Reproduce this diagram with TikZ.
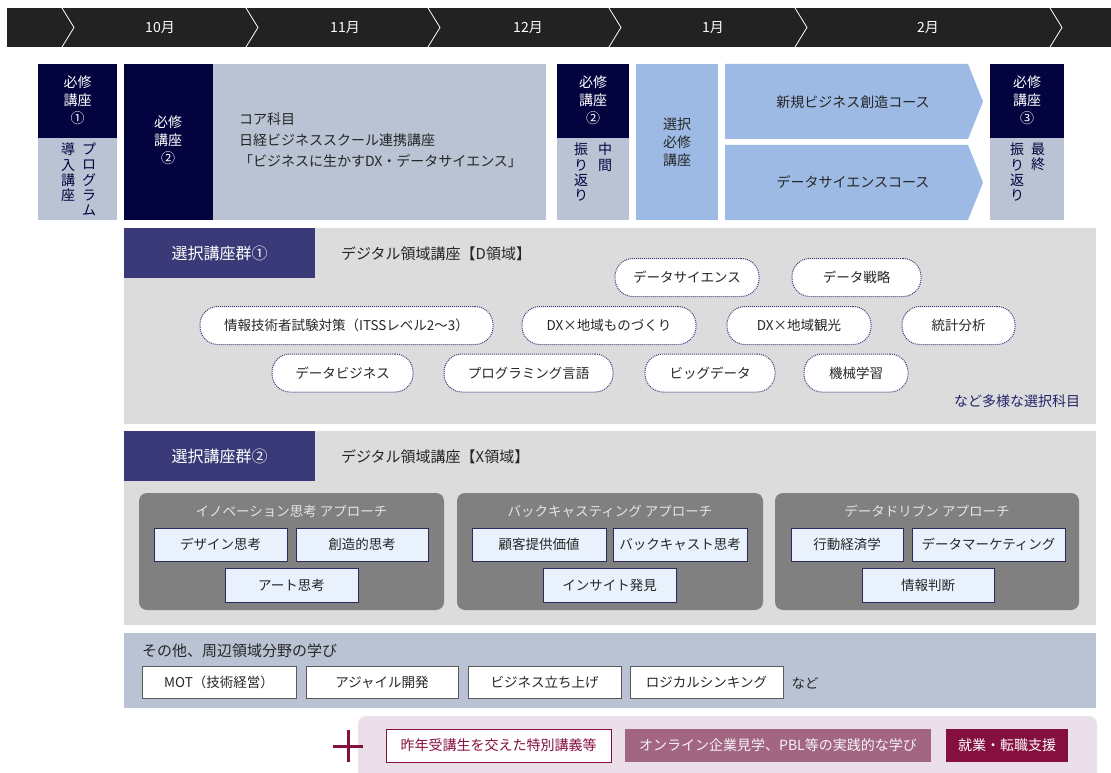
\documentclass[tikz,border=0pt]{standalone}
\usepackage{fontspec}
\setmainfont{Noto Sans CJK JP}
\definecolor{navy}{HTML}{03033F}
\definecolor{greyblue}{HTML}{B9C3D3}
\definecolor{lightblue}{HTML}{9DBAE4}
\definecolor{barblack}{HTML}{222222}
\definecolor{tabcol}{HTML}{3A3A78}
\definecolor{panelgrey}{HTML}{DCDCDC}
\definecolor{groupgrey}{HTML}{808080}
\definecolor{innerfill}{HTML}{E9F1FC}
\definecolor{innerdraw}{HTML}{2A2A5E}
\definecolor{pilldraw}{HTML}{3A3A78}
\definecolor{txt}{HTML}{262626}
\definecolor{maroon}{HTML}{850F3F}
\definecolor{mauve}{HTML}{A26683}
\definecolor{pinkpanel}{HTML}{EBE0EA}
\definecolor{boxgrey}{HTML}{5A5A5A}
\definecolor{navytext}{HTML}{22226A}
\newcommand{\myfs}[2]{\fontsize{#1}{#2}\selectfont}
\begin{document}
\begin{tikzpicture}[x=1pt,y=-1pt,
  every node/.style={inner sep=0pt,outer sep=0pt,text=txt},
  nw/.style={anchor=north west},
  darkbox/.style={nw,fill=navy},
  lightbox/.style={nw,fill=greyblue},
  bluebox/.style={nw,fill=lightblue},
  darklbl/.style={text=white,align=center,font=\myfs{14}{18}},
  vert/.style={anchor=north,align=center,text=navy,font=\myfs{14}{15.3}},
  pill/.style={draw=pilldraw,densely dotted,line width=1pt,fill=white,rounded corners=18pt,minimum height=38pt,font=\myfs{13.5}{16}},
  tabbox/.style={nw,fill=tabcol,minimum width=191pt,minimum height=50pt,text=white,font=\myfs{16}{18}},
  panelbox/.style={nw,fill=panelgrey},
  groupbox/.style={nw,fill=groupgrey,rounded corners=8pt},
  grouptitle/.style={text=white!90!black,font=\myfs{13.5}{16}},
  innerbox/.style={nw,fill=innerfill,draw=innerdraw,line width=1pt,font=\myfs{13.5}{16}},
  otherbox/.style={nw,fill=white,draw=boxgrey,line width=1pt,minimum height=32pt,font=\myfs{13.5}{16}},
  month/.style={text=white,font=\myfs{14}{16}},
  chev/.style={draw=white,line width=0.8pt}
]
\useasboundingbox (0,0) rectangle (1111,773);
\fill[white] (0,0) rectangle (1111,773);

% timeline bar
\node[nw,fill=barblack,minimum width=1104pt,minimum height=39pt] (bar) at (7,8) {};
\foreach \cx in {62,246,428,609,795,1050}{
  \draw[chev] (\cx,8) -- (\cx+12,27.5) -- (\cx,47);
}
\node[month] (m10) at (160,27.5) {10月};
\node[month] (m11) at (345,27.5) {11月};
\node[month] (m12) at (528,27.5) {12月};
\node[month] (m1) at (713,27.5) {1月};
\node[month] (m2) at (928,27.5) {2月};

% Box A
\node[darkbox,minimum width=79pt,minimum height=74pt] (a1) at (38,64) {};
\node[lightbox,minimum width=79pt,minimum height=82pt] (a2) at (38,138) {};
\node[darklbl] (a1t) at (77.5,100) {必修\\講座\\①};
\node[vert] (a2r) at (89,143) {プ\\ロ\\グ\\ラ\\ム};
\node[vert] (a2l) at (68,143) {導\\入\\講\\座};

% Box B
\node[darkbox,minimum width=89pt,minimum height=156pt] (b1) at (124,64) {};
\node[lightbox,minimum width=333pt,minimum height=156pt] (b2) at (213,64) {};
\node[darklbl] (b1t) at (168,140) {必修\\講座\\②};
\node[anchor=west,align=left,font=\myfs{14}{21}] (b2t) at (239,140) {コア科目\\日経ビジネススクール連携講座\\「ビジネスに生かすDX・データサイエンス」};

% Box C
\node[darkbox,minimum width=72pt,minimum height=74pt] (c1) at (557,64) {};
\node[lightbox,minimum width=72pt,minimum height=82pt] (c2) at (557,138) {};
\node[darklbl] (c1t) at (593,100) {必修\\講座\\②};
\node[vert] (c2r) at (605,143) {中\\間};
\node[vert] (c2l) at (581,143) {振\\り\\返\\り};

% Box D
\node[bluebox,minimum width=82pt,minimum height=156pt] (d1) at (636,64) {};
\node[align=center,font=\myfs{14}{18}] (d1t) at (677,142) {選択\\必修\\講座};

% Course arrows
\fill[lightblue] (725,64) -- (968,64) -- (983,101.5) -- (968,139) -- (725,139) -- cycle;
\fill[lightblue] (725,145) -- (968,145) -- (983,182.5) -- (968,220) -- (725,220) -- cycle;
\node[font=\myfs{14}{16}] (course1) at (853,102) {新規ビジネス創造コース};
\node[font=\myfs{14}{16}] (course2) at (853,182) {データサイエンスコース};

% Box E
\node[darkbox,minimum width=74pt,minimum height=74pt] (e1) at (990,64) {};
\node[lightbox,minimum width=74pt,minimum height=82pt] (e2) at (990,138) {};
\node[darklbl] (e1t) at (1027,100) {必修\\講座\\③};
\node[vert] (e2r) at (1038,143) {最\\終};
\node[vert] (e2l) at (1017,143) {振\\り\\返\\り};

% D domain panel
\node[panelbox,minimum width=972pt,minimum height=196pt] (dpanel) at (124,228) {};
\node[tabbox] (dtab) at (124,228) {選択講座群①};
\node[anchor=west,font=\myfs{15}{18}] (dtitle) at (341,254) {デジタル領域講座【D領域】};
\node[pill,minimum width=144pt] (p1) at (687,277.5) {データサイエンス};
\node[pill,minimum width=129pt] (p2) at (856.5,277.5) {データ戦略};
\node[pill,minimum width=293pt] (p3) at (346.5,325.5) {情報技術者試験対策（ITSSレベル2〜3）};
\node[pill,minimum width=174pt] (p4) at (609,325.5) {DX×地域ものづくり};
\node[pill,minimum width=144pt] (p5) at (799,325.5) {DX×地域観光};
\node[pill,minimum width=113pt] (p6) at (958.5,325.5) {統計分析};
\node[pill,minimum width=141pt] (p7) at (342.5,373) {データビジネス};
\node[pill,minimum width=169pt] (p8) at (528.5,373) {プログラミング言語};
\node[pill,minimum width=130pt] (p9) at (710,373) {ビッグデータ};
\node[pill,minimum width=104pt] (p10) at (856,373) {機械学習};
\node[anchor=east,text=navytext,font=\myfs{14}{16}] (dnote) at (1080,401) {など多様な選択科目};

% X domain panel
\node[panelbox,minimum width=972pt,minimum height=194pt] (xpanel) at (124,431) {};
\node[tabbox] (xtab) at (124,431) {選択講座群②};
\node[anchor=west,font=\myfs{15}{18}] (xtitle) at (341,457) {デジタル領域講座【X領域】};

\node[groupbox,minimum width=305pt,minimum height=117pt] (g1) at (139,493) {};
\node[groupbox,minimum width=306pt,minimum height=117pt] (g2) at (457,493) {};
\node[groupbox,minimum width=304pt,minimum height=117pt] (g3) at (775,493) {};
\node[grouptitle] (g1t) at (291.5,511) {イノベーション思考 アプローチ};
\node[grouptitle] (g2t) at (610,511) {バックキャスティング アプローチ};
\node[grouptitle] (g3t) at (927,511) {データドリブン アプローチ};

\node[innerbox,minimum width=133pt,minimum height=33pt] (i1) at (154,528) {デザイン思考};
\node[innerbox,minimum width=132pt,minimum height=33pt] (i2) at (296,528) {創造的思考};
\node[innerbox,minimum width=133pt,minimum height=34pt] (i3) at (225,568) {アート思考};
\node[innerbox,minimum width=134pt,minimum height=33pt] (i4) at (472,528) {顧客提供価値};
\node[innerbox,minimum width=134pt,minimum height=33pt] (i5) at (613,528) {バックキャスト思考};
\node[innerbox,minimum width=133pt,minimum height=34pt] (i6) at (543,568) {インサイト発見};
\node[innerbox,minimum width=112pt,minimum height=33pt] (i7) at (791,528) {行動経済学};
\node[innerbox,minimum width=153pt,minimum height=33pt] (i8) at (912,528) {データマーケティング};
\node[innerbox,minimum width=132pt,minimum height=34pt] (i9) at (862,568) {情報判断};

% Other panel
\node[nw,fill=greyblue,minimum width=972pt,minimum height=75pt] (opanel) at (124,633) {};
\node[anchor=west,font=\myfs{15}{17}] (otitle) at (142,651) {その他、周辺領域分野の学び};
\node[otherbox,minimum width=154pt] (o1) at (142,666) {MOT（技術経営）};
\node[otherbox,minimum width=152pt] (o2) at (306,666) {アジャイル開発};
\node[otherbox,minimum width=153pt] (o3) at (468,666) {ビジネス立ち上げ};
\node[otherbox,minimum width=153pt] (o4) at (630,666) {ロジカルシンキング};
\node[font=\myfs{13.5}{16}] (onote) at (805,683) {など};

% Pink panel
\node[nw,fill=pinkpanel,rounded corners=8pt,minimum width=739pt,minimum height=70pt] (ppanel) at (358,716) {};
\coordinate (plus) at (348,746);
\draw[maroon,line width=3pt] ([xshift=-15pt]plus) -- ([xshift=15pt]plus);
\draw[maroon,line width=3pt] ([yshift=-16pt]plus) -- ([yshift=16pt]plus);
\node[nw,fill=white,draw=maroon,line width=1pt,minimum width=225pt,minimum height=33pt,text=maroon,font=\myfs{14}{16}] (s1) at (386,729) {昨年受講生を交えた特別講義等};
\node[nw,fill=mauve,minimum width=306pt,minimum height=33pt,text=white!92!mauve,font=\myfs{14}{16}] (s2) at (625,729) {オンライン企業見学、PBL等の実践的な学び};
\node[nw,fill=maroon,minimum width=122pt,minimum height=33pt,text=white,font=\myfs{14}{16}] (s3) at (946,729) {就業・転職支援};
\end{tikzpicture}
\end{document}
